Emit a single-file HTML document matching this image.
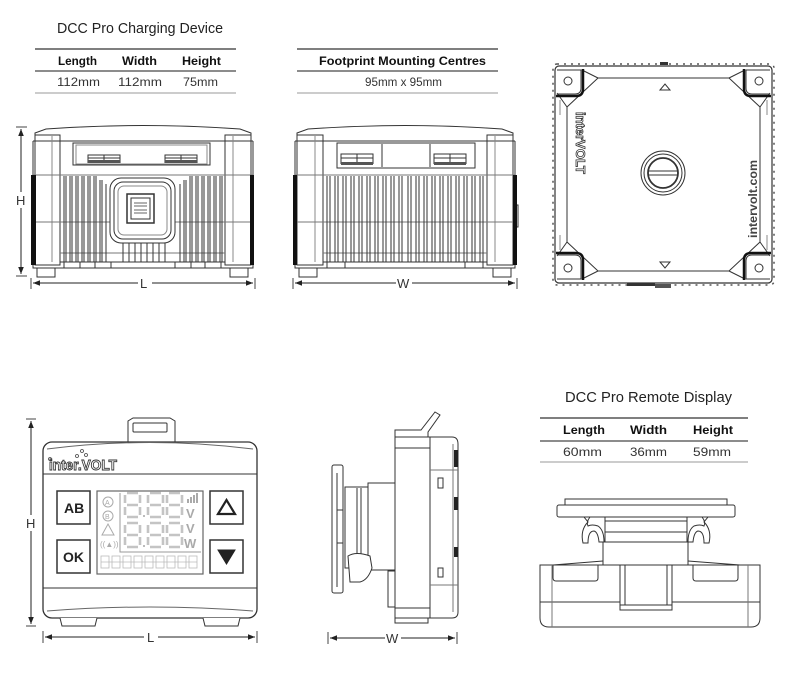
<!DOCTYPE html>
<html><head><meta charset="utf-8"><style>
html,body{margin:0;padding:0;background:#fff;}
svg{display:block;}
text{font-family:"Liberation Sans",sans-serif;}
</style></head><body>
<svg width="800" height="683" viewBox="0 0 800 683" xmlns="http://www.w3.org/2000/svg">
<defs>
<marker id="ah" viewBox="0 0 10 10" refX="10" refY="5" markerWidth="7" markerHeight="7" orient="auto-start-reverse"><path d="M0,1 L10,5 L0,9 Z" fill="#222"/></marker>
</defs>

<!-- ===== Table 1 ===== -->
<text x="57" y="33" font-size="15" fill="#222" textLength="166" lengthAdjust="spacingAndGlyphs">DCC Pro Charging Device</text>
<line x1="35" y1="49" x2="236" y2="49" stroke="#555" stroke-width="1.5"/>
<line x1="35" y1="71" x2="236" y2="71" stroke="#666" stroke-width="1.5"/>
<line x1="35" y1="93" x2="236" y2="93" stroke="#bbb" stroke-width="1.5"/>
<g font-size="12" font-weight="bold" fill="#111">
<text x="58" y="65" textLength="39" lengthAdjust="spacingAndGlyphs">Length</text>
<text x="122" y="65" textLength="35" lengthAdjust="spacingAndGlyphs">Width</text>
<text x="182" y="65" textLength="39" lengthAdjust="spacingAndGlyphs">Height</text>
</g>
<g font-size="12" fill="#333">
<text x="57" y="86" textLength="43" lengthAdjust="spacingAndGlyphs">112mm</text>
<text x="118" y="86" textLength="44" lengthAdjust="spacingAndGlyphs">112mm</text>
<text x="183" y="86" textLength="35" lengthAdjust="spacingAndGlyphs">75mm</text>
</g>

<!-- ===== Table 2 ===== -->
<line x1="297" y1="49" x2="498" y2="49" stroke="#555" stroke-width="1.5"/>
<line x1="297" y1="71" x2="498" y2="71" stroke="#666" stroke-width="1.5"/>
<line x1="297" y1="93" x2="498" y2="93" stroke="#bbb" stroke-width="1.5"/>
<text x="319" y="65" font-size="12" font-weight="bold" fill="#111" textLength="167" lengthAdjust="spacingAndGlyphs">Footprint Mounting Centres</text>
<text x="365" y="86" font-size="12" fill="#333" textLength="77" lengthAdjust="spacingAndGlyphs">95mm x 95mm</text>

<!-- ===== Charger front view ===== -->
<g fill="none" stroke="#333" stroke-width="1">
<path d="M33,141 L33,268 L253,268 L253,141"/>
<path d="M35,141 L35,133 L46,129 Q143,122 240,129 L251,133 L251,141 Z" fill="#fff"/>
<line x1="33" y1="141" x2="253" y2="141"/>
<rect x="35" y="135" width="25" height="130"/>
<rect x="225" y="135" width="26" height="130"/>
<line x1="52" y1="136" x2="52" y2="262" stroke="#888"/>
<line x1="233" y1="136" x2="233" y2="262" stroke="#888"/>
<rect x="73" y="143" width="137" height="22"/>
<rect x="76" y="145" width="131" height="19" stroke="#888"/>
<path d="M88,163 L88,155 L120,155 L120,163 M88,158 L120,158 M104,155 L104,163" />
<path d="M165,163 L165,155 L197,155 L197,163 M165,158 L197,158 M181,155 L181,163" />
<rect x="88" y="160" width="32" height="3" fill="#555" stroke="none"/>
<rect x="165" y="160" width="32" height="3" fill="#555" stroke="none"/>
<line x1="33" y1="175" x2="253" y2="175" stroke="#777"/>
<line x1="33" y1="222" x2="253" y2="222" stroke="#777"/>
<line x1="60" y1="253" x2="225" y2="253" stroke="#777"/>
<line x1="60" y1="262" x2="225" y2="262"/>
</g>
<rect x="31" y="175" width="5" height="90" fill="#111"/>
<rect x="250" y="175" width="4" height="90" fill="#111"/>
<g stroke="#333" stroke-width="1" fill="none">
<path d="M64,176 V262 M66,176 V262 M70,176 V262 M72,176 V262 M76,176 V262 M78,176 V262 M82,176 V262 M84,176 V262 M88,176 V262 M90,176 V262 M94,176 V262 M96,176 V262 M100,180 V262 M102,180 V262 M106,184 V262"/>
<path d="M222,176 V262 M220,176 V262 M216,176 V262 M214,176 V262 M210,176 V262 M208,176 V262 M204,176 V262 M202,176 V262 M198,176 V262 M196,176 V262 M192,176 V262 M190,176 V262 M186,180 V262 M184,180 V262 M180,184 V262"/>
<rect x="110" y="178" width="65" height="65" rx="11" fill="#fff"/>
<rect x="114" y="182" width="57" height="57" rx="9"/>
<rect x="118" y="186" width="49" height="49" rx="6" stroke="#888"/>
<rect x="127" y="194" width="27" height="29" stroke-width="1.5"/>
<rect x="131" y="198" width="19" height="21" fill="#fff"/>
<path d="M134,203 h13 M134,206 h13 M134,210 h13 M134,213 h13" stroke="#666"/>
<path d="M123,243 v19 M129,243 v19 M135,243 v19 M141,243 v19 M147,243 v19 M153,243 v19 M159,243 v19 M165,243 v19"/>
<rect x="37" y="268" width="18" height="9" fill="#fff"/>
<rect x="230" y="268" width="18" height="9" fill="#fff"/>
<rect x="64" y="262" width="16" height="6"/>
<rect x="95" y="262" width="16" height="6"/>
<rect x="175" y="262" width="16" height="6"/>
<rect x="205" y="262" width="16" height="6"/>
</g>
<!-- H dim -->
<line x1="16" y1="127" x2="27" y2="127" stroke="#444"/>
<line x1="16" y1="276" x2="27" y2="276" stroke="#444"/>
<line x1="21" y1="129" x2="21" y2="192" stroke="#222" marker-start="url(#ah)"/>
<line x1="21" y1="208" x2="21" y2="274" stroke="#222" marker-end="url(#ah)"/>
<text x="16" y="205" font-size="13" fill="#333">H</text>
<!-- L dim -->
<line x1="31" y1="278" x2="31" y2="289" stroke="#444"/>
<line x1="255" y1="278" x2="255" y2="289" stroke="#444"/>
<line x1="33" y1="283" x2="138" y2="283" stroke="#222" marker-start="url(#ah)"/>
<line x1="152" y1="283" x2="253" y2="283" stroke="#222" marker-end="url(#ah)"/>
<text x="140" y="288" font-size="13" fill="#333">L</text>

<!-- ===== Charger side view ===== -->
<g fill="none" stroke="#333" stroke-width="1">
<path d="M295,141 L295,268 L515,268 L515,141"/>
<path d="M297,141 L297,133 L308,129 Q405,122 502,129 L513,133 L513,141 Z" fill="#fff"/>
<line x1="295" y1="141" x2="515" y2="141"/>
<rect x="297" y="135" width="26" height="130"/>
<rect x="487" y="135" width="26" height="130"/>
<line x1="315" y1="136" x2="315" y2="262" stroke="#888"/>
<line x1="495" y1="136" x2="495" y2="262" stroke="#888"/>
<rect x="337" y="143" width="138" height="25"/>
<line x1="382" y1="144" x2="382" y2="167"/>
<line x1="430" y1="144" x2="430" y2="167"/>
<path d="M341,164 L341,154 L373,154 L373,164 M341,158 L373,158 M357,154 L357,164"/>
<path d="M434,164 L434,154 L466,154 L466,164 M434,158 L466,158 M450,154 L450,164"/>
<rect x="341" y="162" width="32" height="3" fill="#555" stroke="none"/>
<rect x="434" y="162" width="32" height="3" fill="#555" stroke="none"/>
<line x1="295" y1="175" x2="515" y2="175" stroke="#777"/>
<line x1="295" y1="222" x2="515" y2="222" stroke="#777"/>
<line x1="323" y1="253" x2="487" y2="253" stroke="#777"/>
<line x1="323" y1="262" x2="487" y2="262"/>
<path d="M327,176 V262 M330,176 V262 M335,176 V262 M338,176 V262 M343,176 V262 M346,176 V262 M351,176 V262 M354,176 V262 M359,176 V262 M362,176 V262 M367,176 V262 M370,176 V262 M375,176 V262 M378,176 V262 M383,176 V262 M386,176 V262 M391,176 V262 M394,176 V262 M399,176 V262 M402,176 V262 M408,176 V262 M411,176 V262 M416,176 V262 M419,176 V262 M424,176 V262 M427,176 V262 M432,176 V262 M435,176 V262 M440,176 V262 M443,176 V262 M448,176 V262 M451,176 V262 M456,176 V262 M459,176 V262 M464,176 V262 M467,176 V262 M472,176 V262 M475,176 V262 M480,176 V262 M483,176 V262"/>
<rect x="299" y="268" width="18" height="9" fill="#fff"/>
<rect x="493" y="268" width="18" height="9" fill="#fff"/>
<rect x="327" y="262" width="18" height="6"/>
<rect x="465" y="262" width="18" height="6"/>
<rect x="515" y="205" width="3" height="22"/>
</g>
<rect x="293" y="175" width="4" height="90" fill="#111"/>
<rect x="513" y="175" width="4" height="90" fill="#111"/>
<!-- W dim -->
<line x1="293" y1="278" x2="293" y2="289" stroke="#444"/>
<line x1="517" y1="278" x2="517" y2="289" stroke="#444"/>
<line x1="295" y1="283" x2="396" y2="283" stroke="#222" marker-start="url(#ah)"/>
<line x1="412" y1="283" x2="515" y2="283" stroke="#222" marker-end="url(#ah)"/>
<text x="397" y="288" font-size="13" fill="#333">W</text>

<!-- ===== Top view ===== -->
<g fill="none" stroke="#333" stroke-width="1">
<rect x="553" y="64" width="221" height="221" rx="4" stroke="#555" stroke-width="1.5" stroke-dasharray="2 5"/>
<rect x="555" y="66" width="217" height="217" rx="4" fill="#fff" stroke-width="1.2"/>
<path d="M598,78 L729,78 L760,107 L760,242 L729,271 L598,271 L567,242 L567,107 Z"/>
<path d="M582,70 L598,78 M557,93 L567,107 M745,70 L729,78 M770,93 L760,107 M582,279 L598,271 M557,256 L567,242 M745,279 L729,271 M770,256 L760,242"/>
<path d="M560,100 L560,115 M560,235 L560,250 M767,100 L767,115 M767,235 L767,250" stroke="#888"/>
<!-- corner pads -->
<path d="M557,70 L581,70 L581,88 Q581,94 575,94 L557,94" />
<path d="M770,70 L746,70 L746,88 Q746,94 752,94 L770,94" />
<path d="M557,279 L581,279 L581,261 Q581,255 575,255 L557,255" />
<path d="M770,279 L746,279 L746,261 Q746,255 752,255 L770,255" />
<g stroke="#111" stroke-width="2.5">
<path d="M583,69 L583,89 Q583,96 576,96 L556,96"/>
<path d="M744,69 L744,89 Q744,96 751,96 L771,96"/>
<path d="M583,280 L583,260 Q583,253 576,253 L556,253"/>
<path d="M744,280 L744,260 Q744,253 751,253 L771,253"/>
</g>
<circle cx="568" cy="81" r="4"/>
<circle cx="759" cy="81" r="4"/>
<circle cx="568" cy="268" r="4"/>
<circle cx="759" cy="268" r="4"/>
<path d="M660,90 L665,84 L670,90 Z"/>
<path d="M660,262 L665,268 L670,262 Z"/>
<circle cx="663" cy="173" r="22"/>
<circle cx="663" cy="173" r="19"/>
<circle cx="663" cy="173" r="15" stroke-width="1.8"/>
<path d="M649,171 H677 M649,175 H677"/>
</g>
<rect x="627" y="283" width="28" height="3" fill="#333"/>
<rect x="655" y="284" width="16" height="4" fill="#555"/>
<rect x="660" y="62" width="8" height="3" fill="#333"/>
<text font-size="13" font-weight="bold" fill="#fff" stroke="#333" stroke-width="0.8" transform="translate(576,112) rotate(90)">interVOLT</text>
<text font-size="12" font-weight="bold" fill="#444" transform="translate(757,238) rotate(-90)" textLength="78" lengthAdjust="spacingAndGlyphs">intervolt.com</text>

<!-- ===== Remote front view ===== -->
<g fill="none" stroke="#333" stroke-width="1">
<path d="M128,442 L128,421 L133,418 L170,418 L175,421 L175,442" fill="#fff"/>
<rect x="133" y="423" width="34" height="9" rx="1"/>
<rect x="43" y="442" width="214" height="176" rx="9" fill="#fff" stroke-width="1.3"/>
<path d="M47,449 Q150,436 253,449" stroke="#666"/>
<line x1="43" y1="474" x2="257" y2="474"/>
<line x1="43" y1="588" x2="257" y2="588"/>
<path d="M47,611 Q150,603 253,611" stroke="#666"/>
<path d="M60,618 L62,626 L95,626 L97,618" fill="#fff"/>
<path d="M203,618 L205,626 L238,626 L240,618" fill="#fff"/>
<!-- buttons -->
<rect x="57" y="491" width="33" height="33" stroke-width="1.5" fill="#fff"/>
<rect x="57" y="540" width="33" height="33" stroke-width="1.5" fill="#fff"/>
<rect x="210" y="491" width="33" height="33" stroke-width="1.5" fill="#fff"/>
<rect x="210" y="540" width="33" height="33" stroke-width="1.5" fill="#fff"/>
<path d="M218,514 L226.5,500 L235,514 Z" stroke="#222" stroke-width="2.2"/>
<path d="M218,550 L235,550 L226.5,564 Z" fill="#222" stroke="#222"/>
<!-- LCD -->
<rect x="97" y="491" width="106" height="83" stroke="#666" stroke-width="1.2"/>
<path d="M120,493 L120,552 L201,552" stroke="#999"/>
<circle cx="108" cy="502" r="5" stroke="#aaa"/>
<circle cx="108" cy="516" r="5" stroke="#aaa"/>
<path d="M102,535 L108,524 L114,535 Z" stroke="#aaa"/>
</g>
<text x="64" y="513" font-size="14" font-weight="bold" fill="#222">AB</text>
<text x="63" y="562" font-size="14" font-weight="bold" fill="#222">OK</text>
<text x="105" y="505" font-size="7" fill="#aaa">A</text>
<text x="105" y="519" font-size="7" fill="#aaa">B</text>
<text x="100" y="547" font-size="8" fill="#aaa">((▲))</text>
<g fill="none" stroke="#c4c4c4" stroke-width="2.6" stroke-linecap="butt">
<path d="M127,493H138 M140,495V503 M140,507V515 M127,517H138 M125,507V515 M125,495V503 M127,505H138"/>
<path d="M150,493H161 M163,495V503 M163,507V515 M150,517H161 M148,507V515 M148,495V503 M150,505H161"/>
<path d="M169,493H180 M182,495V503 M182,507V515 M169,517H180 M167,507V515 M167,495V503 M169,505H180"/>
<path d="M127,523H138 M140,525V533 M140,537V545 M127,547H138 M125,537V545 M125,525V533 M127,535H138"/>
<path d="M150,523H161 M163,525V533 M163,537V545 M150,547H161 M148,537V545 M148,525V533 M150,535H161"/>
<path d="M169,523H180 M182,525V533 M182,537V545 M169,547H180 M167,537V545 M167,525V533 M169,535H180"/>
</g>
<rect x="143" y="515" width="2" height="2" fill="#bbb"/>
<rect x="143" y="545" width="2" height="2" fill="#bbb"/>
<g fill="#aaa">
<rect x="187" y="499" width="2" height="4"/><rect x="190" y="497" width="2" height="6"/><rect x="193" y="495" width="2" height="8"/><rect x="196" y="493" width="2" height="10"/>
</g>
<text x="186" y="518" font-size="13" font-weight="bold" fill="#aaa">V</text>
<text x="186" y="533" font-size="13" font-weight="bold" fill="#aaa">V</text>
<text x="184" y="548" font-size="13" font-weight="bold" fill="#aaa">W</text>
<g fill="none" stroke="#bbb" stroke-width="0.8">
<rect x="101" y="556" width="8" height="12"/><rect x="112" y="556" width="8" height="12"/><rect x="123" y="556" width="8" height="12"/><rect x="134" y="556" width="8" height="12"/><rect x="145" y="556" width="8" height="12"/><rect x="156" y="556" width="8" height="12"/><rect x="167" y="556" width="8" height="12"/><rect x="178" y="556" width="8" height="12"/><rect x="189" y="556" width="8" height="12"/>
<path d="M101,562 h96"/>
</g>
<text x="49" y="470" font-size="15" font-weight="bold" fill="#fff" stroke="#333" stroke-width="0.9" textLength="68" lengthAdjust="spacingAndGlyphs">inter.VOLT</text>
<g fill="none" stroke="#444" stroke-width="0.8">
<circle cx="50" cy="459" r="1.5"/><circle cx="77" cy="456" r="1.5"/><circle cx="82" cy="451" r="1.5"/><circle cx="86" cy="455" r="1.5"/>
</g>
<!-- H dim -->
<line x1="26" y1="419" x2="36" y2="419" stroke="#444"/>
<line x1="26" y1="626" x2="36" y2="626" stroke="#444"/>
<line x1="31" y1="421" x2="31" y2="515" stroke="#222" marker-start="url(#ah)"/>
<line x1="31" y1="531" x2="31" y2="624" stroke="#222" marker-end="url(#ah)"/>
<text x="26" y="528" font-size="13" fill="#333">H</text>
<!-- L dim -->
<line x1="43" y1="631" x2="43" y2="643" stroke="#444"/>
<line x1="257" y1="631" x2="257" y2="643" stroke="#444"/>
<line x1="45" y1="637" x2="144" y2="637" stroke="#222" marker-start="url(#ah)"/>
<line x1="158" y1="637" x2="255" y2="637" stroke="#222" marker-end="url(#ah)"/>
<text x="147" y="642" font-size="13" fill="#333">L</text>

<!-- ===== Remote side view ===== -->
<g fill="none" stroke="#333" stroke-width="1">
<path d="M395,437 L395,430 L421,430 L435,412 L440,415 L428,432 L428,437" fill="#fff"/>
<path d="M395,618 L395,623 L428,623 L428,618"/>
<path d="M395,437 L452,437 Q458,437 458,444 L458,612 Q458,618 452,618 L395,618 Z" fill="#fff"/>
<line x1="430" y1="437" x2="430" y2="618"/>
<line x1="395" y1="448" x2="430" y2="448"/>
<line x1="395" y1="608" x2="430" y2="608"/>
<line x1="430" y1="470" x2="458" y2="470" stroke="#777"/>
<line x1="430" y1="585" x2="458" y2="585" stroke="#777"/>
<line x1="453" y1="444" x2="453" y2="612" stroke="#777"/>
<rect x="438" y="478" width="5" height="10"/>
<rect x="438" y="568" width="5" height="9"/>
<rect x="368" y="483" width="27" height="87" fill="#fff"/>
<rect x="345" y="487" width="23" height="81" fill="#fff"/>
<line x1="357" y1="488" x2="357" y2="567"/>
<line x1="361" y1="488" x2="361" y2="567"/>
<path d="M348,556 Q356,551 370,556 L372,568 Q368,580 360,582 L350,582 Z" fill="#fff"/>
<rect x="388" y="571" width="7" height="36" fill="#fff"/>
<rect x="332" y="465" width="11" height="128" rx="2" fill="#fff"/>
<line x1="337" y1="473" x2="337" y2="587"/>
<rect x="337" y="510" width="6" height="33"/>
</g>
<rect x="454" y="450" width="4" height="17" fill="#222"/>
<rect x="454" y="497" width="4" height="13" fill="#222"/>
<rect x="454" y="547" width="4" height="10" fill="#222"/>
<!-- W dim -->
<line x1="328" y1="632" x2="328" y2="644" stroke="#444"/>
<line x1="457" y1="632" x2="457" y2="644" stroke="#444"/>
<line x1="330" y1="638" x2="385" y2="638" stroke="#222" marker-start="url(#ah)"/>
<line x1="401" y1="638" x2="455" y2="638" stroke="#222" marker-end="url(#ah)"/>
<text x="386" y="643" font-size="13" fill="#333">W</text>

<!-- ===== Table 3 ===== -->
<text x="565" y="402" font-size="15" fill="#222" textLength="167" lengthAdjust="spacingAndGlyphs">DCC Pro Remote Display</text>
<line x1="540" y1="418" x2="748" y2="418" stroke="#555" stroke-width="1.5"/>
<line x1="540" y1="441" x2="748" y2="441" stroke="#666" stroke-width="1.5"/>
<line x1="540" y1="462" x2="748" y2="462" stroke="#bbb" stroke-width="1.5"/>
<g font-size="12" font-weight="bold" fill="#111">
<text x="563" y="434" textLength="42" lengthAdjust="spacingAndGlyphs">Length</text>
<text x="630" y="434" textLength="37" lengthAdjust="spacingAndGlyphs">Width</text>
<text x="693" y="434" textLength="40" lengthAdjust="spacingAndGlyphs">Height</text>
</g>
<g font-size="12" fill="#333">
<text x="563" y="456" textLength="39" lengthAdjust="spacingAndGlyphs">60mm</text>
<text x="630" y="456" textLength="37" lengthAdjust="spacingAndGlyphs">36mm</text>
<text x="693" y="456" textLength="38" lengthAdjust="spacingAndGlyphs">59mm</text>
</g>

<!-- ===== Remote mount view ===== -->
<g fill="none" stroke="#333" stroke-width="1">
<rect x="565" y="499" width="162" height="6" fill="#fff"/>
<rect x="557" y="505" width="178" height="12" rx="2" fill="#fff"/>
<rect x="605" y="517" width="82" height="25" fill="#fff"/>
<line x1="605" y1="521" x2="687" y2="521"/>
<line x1="605" y1="532" x2="687" y2="532"/>
<rect x="603" y="542" width="85" height="23" fill="#fff"/>
<path d="M584,517 L590,517 Q586,522 588,526 Q592,524 598,526 Q604,530 604,542 L599,542 Q598,532 594,531 Q588,531 588,543 L583,543 Q580,530 588,522 Z"/>
<path d="M708,517 L702,517 Q706,522 704,526 Q700,524 694,526 Q688,530 688,542 L693,542 Q694,532 698,531 Q704,531 704,543 L709,543 Q712,530 704,522 Z"/>
<path d="M553,565 L603,561 M688,561 L740,565"/>
<path d="M540,565 L760,565 L760,618 Q760,627 751,627 L549,627 Q540,627 540,618 Z" fill="#fff"/>
<line x1="540" y1="602" x2="760" y2="602"/>
<line x1="552" y1="565" x2="552" y2="627" stroke="#777"/>
<line x1="748" y1="565" x2="748" y2="627" stroke="#777"/>
<path d="M553,565 L553,578 Q553,581 556,581 L595,581 Q598,581 598,578 L598,565"/>
<path d="M693,565 L693,578 Q693,581 696,581 L735,581 Q738,581 738,578 L738,565"/>
<rect x="620" y="565" width="52" height="45" fill="#fff"/>
<line x1="625" y1="565" x2="625" y2="605"/>
<line x1="667" y1="565" x2="667" y2="605"/>
<line x1="620" y1="605" x2="672" y2="605"/>
</g>
</svg>
</body></html>
